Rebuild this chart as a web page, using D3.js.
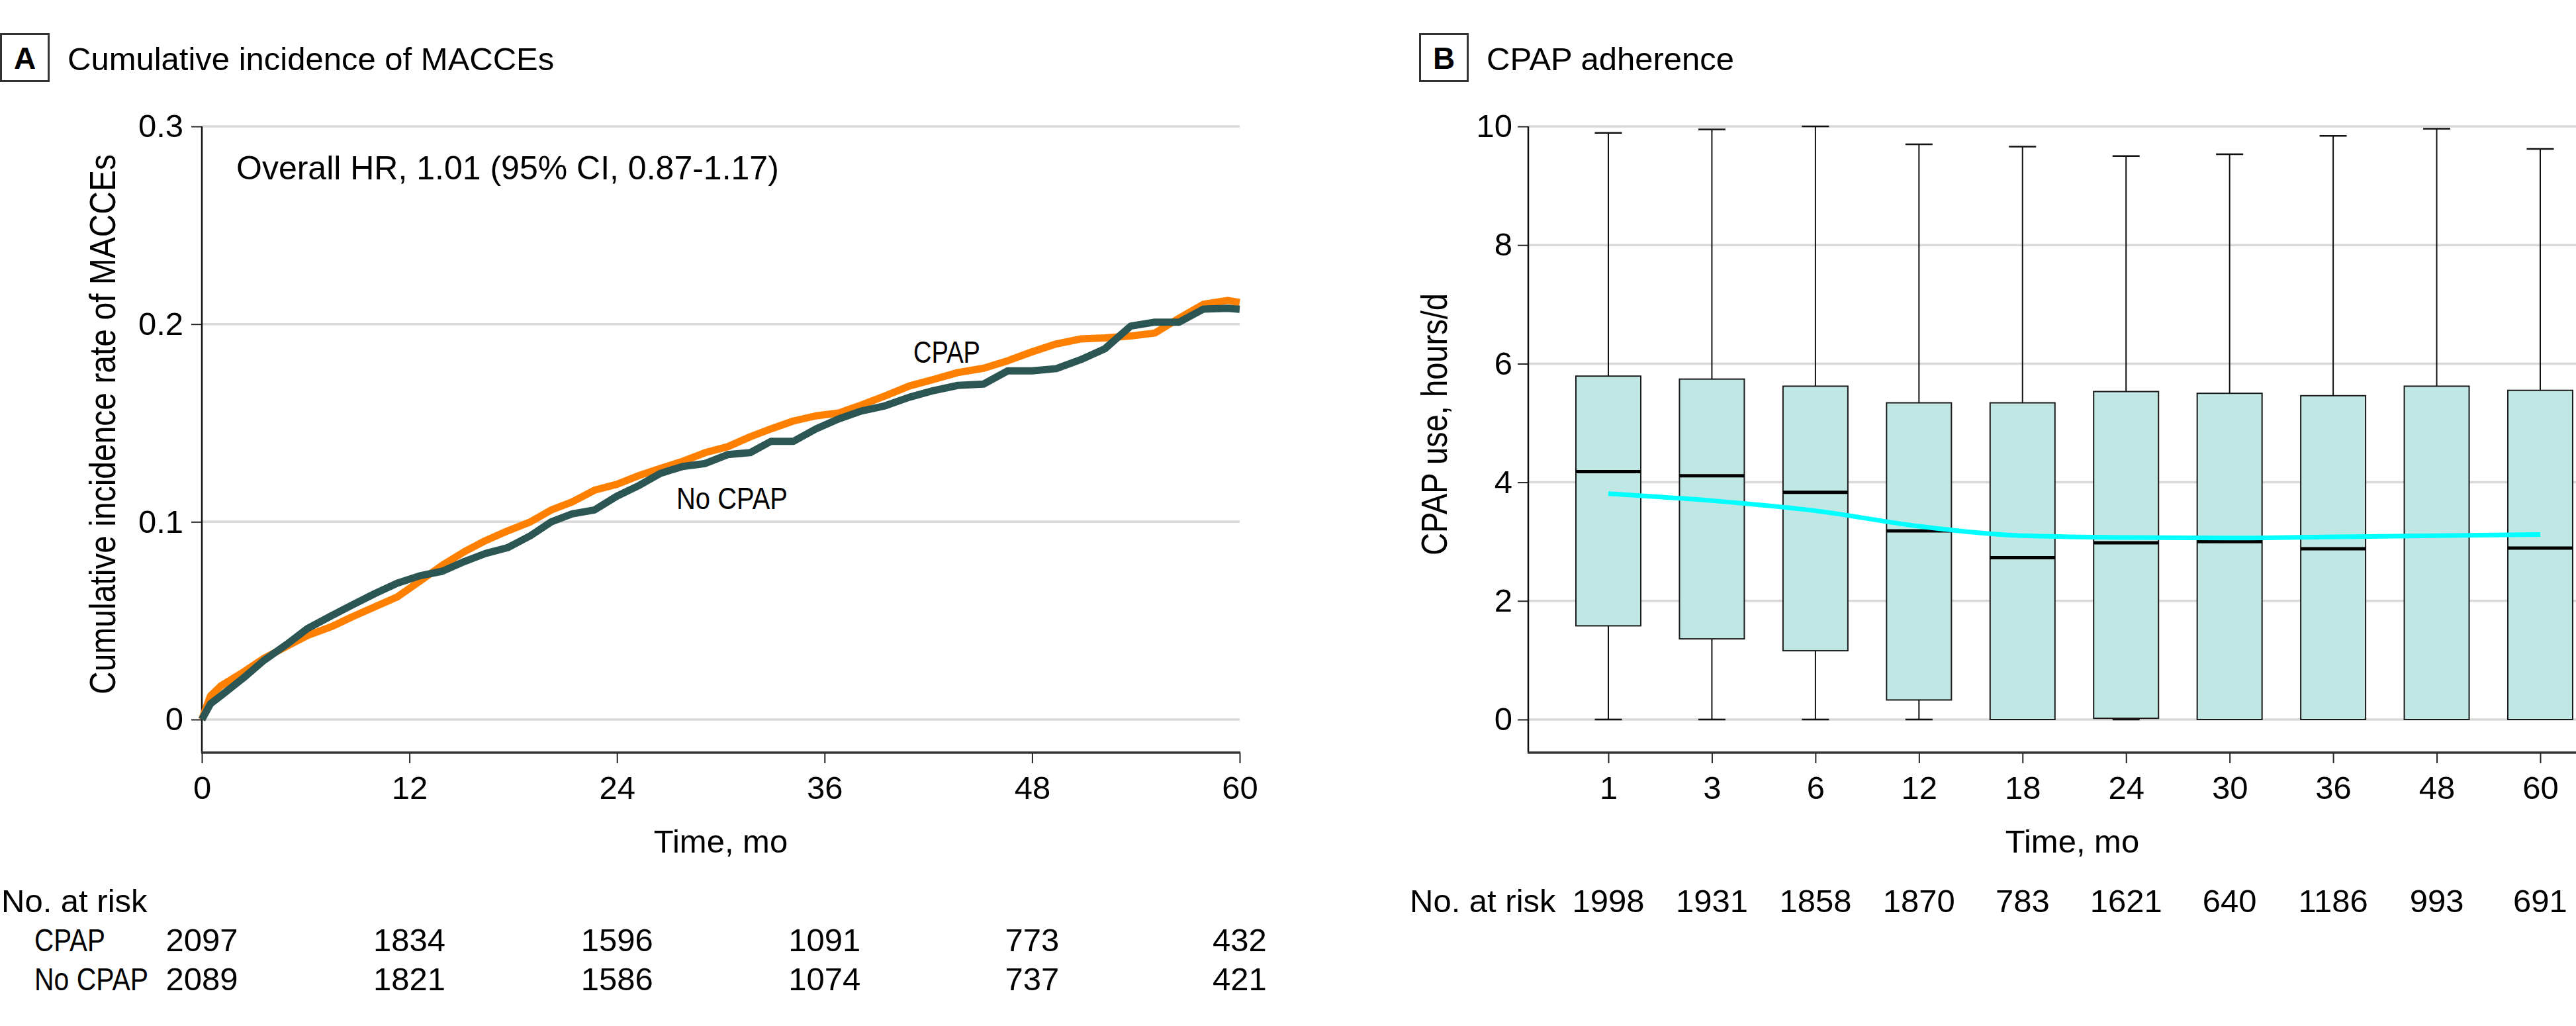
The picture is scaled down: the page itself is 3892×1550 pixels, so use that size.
<!DOCTYPE html>
<html lang="en">
<head>
    <meta charset="UTF-8">
    <title>MACCEs and CPAP adherence</title>
    <script src="https://d3js.org/d3.v7.min.js"></script>
    <style>
        html, body {
            margin: 0;
            background: #fff;
        }
        text {
            font-family: "Liberation Sans", Arial, sans-serif;
            fill: #000;
        }
    </style>
</head>
<body>
    <div id="vis"></div>

    <script>
        // ---- Panel A: cumulative incidence ----
        var kmMonths = [0, 0.5, 1.1, 2.4, 3.6, 4.9, 6.1, 7.5, 8.7, 10, 11.3, 12.6, 13.9, 15.2, 16.4, 17.7, 19, 20.2, 21.4, 22.7,
            24, 25.3, 26.5, 27.8, 29.1, 30.4, 31.7, 32.9, 34.2, 35.5, 36.8, 38.1, 39.5, 40.9, 42.3, 43.7, 45.2, 46.6, 48, 49.4,
            50.8, 52.2, 53.7, 55.1, 56.5, 57.9, 59.3, 60];
        var cpapIncidence = [0, 0.012, 0.017, 0.024, 0.031, 0.037, 0.0425, 0.047, 0.052, 0.057, 0.062, 0.070, 0.078, 0.085, 0.0905, 0.0955, 0.100, 0.106, 0.110, 0.116,
            0.119, 0.1235, 0.127, 0.1306, 0.135, 0.138, 0.143, 0.147, 0.151, 0.1536, 0.155, 0.159, 0.1637, 0.1687, 0.172, 0.1755, 0.1777, 0.1815, 0.186, 0.190,
            0.1925, 0.193, 0.194, 0.1955, 0.203, 0.210, 0.212, 0.211];
        var noCpapIncidence = [0, 0.008, 0.012, 0.021, 0.030, 0.038, 0.046, 0.0525, 0.058, 0.0637, 0.069, 0.0727, 0.075, 0.080, 0.084, 0.087, 0.093, 0.100, 0.104, 0.106,
            0.113, 0.1185, 0.1245, 0.128, 0.1295, 0.134, 0.135, 0.1407, 0.1407, 0.147, 0.152, 0.156, 0.1587, 0.163, 0.1664, 0.169, 0.1697, 0.1764, 0.1764, 0.1775,
            0.182, 0.1875, 0.199, 0.201, 0.201, 0.2076, 0.208, 0.2075];

        var kmTicks = [0, 12, 24, 36, 48, 60];
        var incidenceTicks = [0, 0.1, 0.2, 0.3];
        var riskCpap = [2097, 1834, 1596, 1091, 773, 432];
        var riskNoCpap = [2089, 1821, 1586, 1074, 737, 421];

        // ---- Panel B: CPAP use per visit ----
        var visitMonths = ["1", "3", "6", "12", "18", "24", "30", "36", "48", "60"];
        var useMin = [0, 0, 0, 0, 0, 0, 0, 0, 0, 0];
        var useQ1 = [1.58, 1.36, 1.16, 0.33, 0, 0.02, 0, 0, 0, 0];
        var useMedian = [4.18, 4.11, 3.83, 3.18, 2.73, 2.98, 3.00, 2.88, 3.10, 2.89];
        var useQ3 = [5.79, 5.74, 5.62, 5.34, 5.34, 5.53, 5.50, 5.46, 5.62, 5.55];
        var useMax = [9.89, 9.95, 10.0, 9.70, 9.66, 9.50, 9.53, 9.84, 9.96, 9.62];
        var useTrend = [3.81, 3.69, 3.52, 3.26, 3.10, 3.07, 3.06, 3.08, 3.10, 3.12];
        var visitAtRisk = [1998, 1931, 1858, 1870, 783, 1621, 640, 1186, 993, 691];
        var useTicks = [0, 2, 4, 6, 8, 10];

        var W = 3892, H = 1550;
        var fontSize = 49;
        var axisY = 1137;              // bottom axis line, both panels
        var riskRows = [1378, 1437, 1496];

        var svg = d3.select('#vis')
            .append('svg')
                .attr('width', W)
                .attr('height', H);

        // text squeezed to a measured width (the original face has narrow capitals)
        function narrowText(x, y, size, width, str) {
            return svg.append('text')
                .attr('x', x).attr('y', y)
                .attr('font-size', size)
                .attr('textLength', width)
                .attr('lengthAdjust', 'spacingAndGlyphs')
                .text(str);
        }

        function panelTag(x, letter, title) {
            svg.append('rect')
                .attr('x', x + 1.5).attr('y', 51.5)
                .attr('width', 72).attr('height', 71)
                .attr('fill', 'none')
                .attr('stroke', '#333')
                .attr('stroke-width', 3);
            svg.append('text')
                .attr('x', x + 37.5).attr('y', 104)
                .attr('text-anchor', 'middle')
                .attr('font-weight', 'bold')
                .attr('font-size', 46)
                .text(letter);
            svg.append('text')
                .attr('x', x + 102).attr('y', 106)
                .attr('font-size', 49)
                .text(title);
        }

        function yTitle(cx, cy, len, str) {
            svg.append('text')
                .attr('transform', 'translate(' + cx + ',' + cy + ') rotate(-90)')
                .attr('text-anchor', 'middle')
                .attr('font-size', 56)
                .attr('textLength', len)
                .attr('lengthAdjust', 'spacingAndGlyphs')
                .text(str);
        }

        function styleAxis(g) {
            g.select('.domain').remove();
            g.selectAll('.tick line').attr('stroke', '#222').attr('stroke-width', 2);
            g.selectAll('.tick text').attr('font-size', fontSize).attr('fill', '#000')
                .attr('font-family', '"Liberation Sans", Arial, sans-serif');
        }

        /*
         *  PANEL A
         */
        var xA = d3.scaleLinear().domain([0, 60]).range([305, 1873]);
        var yA = d3.scaleLinear().domain([0, 0.3]).range([1087, 191]);

        panelTag(0, 'A', 'Cumulative incidence of MACCEs');

        svg.append('g').selectAll('line')
            .data(incidenceTicks)
            .enter().append('line')
                .attr('x1', xA(0)).attr('x2', xA(60))
                .attr('y1', d => yA(d)).attr('y2', d => yA(d))
                .attr('stroke', '#d9d9d9')
                .attr('stroke-width', 3.5);

        svg.append('g')
            .attr('transform', 'translate(' + xA(0) + ',0)')
            .call(d3.axisLeft(yA).tickValues(incidenceTicks).tickSize(16).tickPadding(12)
                .tickFormat(d => d === 0 ? '0' : d3.format('.1f')(d)))
            .call(styleAxis);

        svg.append('g')
            .attr('transform', 'translate(0,' + axisY + ')')
            .call(d3.axisBottom(xA).tickValues(kmTicks).tickSize(16).tickPadding(19))
            .call(styleAxis);

        svg.append('line')
            .attr('x1', xA(0)).attr('x2', xA(0))
            .attr('y1', yA(0.3)).attr('y2', axisY)
            .attr('stroke', '#111').attr('stroke-width', 2.5);
        svg.append('line')
            .attr('x1', xA(0) - 1).attr('x2', xA(60) + 1)
            .attr('y1', axisY).attr('y2', axisY)
            .attr('stroke', '#333').attr('stroke-width', 3.5);

        var kmLine = d3.line()
            .x(function(d, i) { return xA(kmMonths[i]); })
            .y(function(d) { return yA(d); });

        var series = [
            {values: cpapIncidence, color: '#ff8000'},
            {values: noCpapIncidence, color: '#2b5653'}
        ];

        series.forEach(function(s) {
            svg.append('path')
                .attr('d', kmLine(s.values))
                .attr('fill', 'none')
                .attr('stroke', s.color)
                .attr('stroke-width', 11)
                .attr('stroke-linejoin', 'round');
        });

        svg.append('text')
            .attr('x', 357).attr('y', 271)
            .attr('font-size', 50)
            .text('Overall HR, 1.01 (95% CI, 0.87-1.17)');

        narrowText(1380, 548, 46, 101, 'CPAP');
        narrowText(1022, 769, 46, 168, 'No CPAP');

        yTitle(174, 641, 816, 'Cumulative incidence rate of MACCEs');

        svg.append('text')
            .attr('x', xA(30)).attr('y', 1288)
            .attr('text-anchor', 'middle')
            .attr('font-size', fontSize)
            .text('Time, mo');

        // number at risk table
        svg.append('text').attr('x', 2).attr('y', riskRows[0]).attr('font-size', fontSize).text('No. at risk');
        narrowText(52, riskRows[1], fontSize, 107, 'CPAP');
        narrowText(52, riskRows[2], fontSize, 172, 'No CPAP');

        [riskCpap, riskNoCpap].forEach(function(row, r) {
            svg.append('g').selectAll('text')
                .data(row)
                .enter().append('text')
                    .attr('x', function(d, i) { return xA(kmTicks[i]); })
                    .attr('y', riskRows[r + 1])
                    .attr('text-anchor', 'middle')
                    .attr('font-size', fontSize)
                    .text(function(d) { return d; });
        });

        /*
         *  PANEL B
         */
        var xB = d3.scalePoint().domain(visitMonths).range([2430, 3838]);
        var yB = d3.scaleLinear().domain([0, 10]).range([1087, 191]);
        var yAxisB = 2309;
        var boxW = 98, capW = 41;

        panelTag(2144, 'B', 'CPAP adherence');

        svg.append('g').selectAll('line')
            .data(useTicks)
            .enter().append('line')
                .attr('x1', yAxisB).attr('x2', W)
                .attr('y1', d => yB(d)).attr('y2', d => yB(d))
                .attr('stroke', '#d9d9d9')
                .attr('stroke-width', 3.5);

        svg.append('g')
            .attr('transform', 'translate(' + yAxisB + ',0)')
            .call(d3.axisLeft(yB).tickValues(useTicks).tickSize(16).tickPadding(8))
            .call(styleAxis);

        svg.append('g')
            .attr('transform', 'translate(0,' + axisY + ')')
            .call(d3.axisBottom(xB).tickSize(16).tickPadding(19))
            .call(styleAxis);

        svg.append('line')
            .attr('x1', yAxisB).attr('x2', yAxisB)
            .attr('y1', yB(10)).attr('y2', axisY)
            .attr('stroke', '#111').attr('stroke-width', 2.5);
        svg.append('line')
            .attr('x1', yAxisB - 1).attr('x2', W)
            .attr('y1', axisY).attr('y2', axisY)
            .attr('stroke', '#333').attr('stroke-width', 3.5);

        var boxes = svg.append('g').selectAll('g')
            .data(visitMonths)
            .enter().append('g')
                .attr('transform', d => 'translate(' + xB(d) + ',0)');

        // whiskers
        boxes.append('line')
            .attr('x1', 0).attr('x2', 0)
            .attr('y1', (d, i) => yB(useMax[i]))
            .attr('y2', (d, i) => yB(useMin[i]))
            .attr('stroke', '#111').attr('stroke-width', 2);
        boxes.append('line')
            .attr('x1', -capW / 2).attr('x2', capW / 2)
            .attr('y1', (d, i) => yB(useMax[i]))
            .attr('y2', (d, i) => yB(useMax[i]))
            .attr('stroke', '#111').attr('stroke-width', 2.5);
        boxes.filter((d, i) => useQ1[i] > useMin[i])
            .append('line')
            .attr('x1', -capW / 2).attr('x2', capW / 2)
            .attr('y1', function(d) { return yB(useMin[visitMonths.indexOf(d)]); })
            .attr('y2', function(d) { return yB(useMin[visitMonths.indexOf(d)]); })
            .attr('stroke', '#111').attr('stroke-width', 2.5);

        boxes.append('rect')
            .attr('x', -boxW / 2)
            .attr('width', boxW)
            .attr('y', (d, i) => yB(useQ3[i]))
            .attr('height', (d, i) => yB(useQ1[i]) - yB(useQ3[i]))
            .attr('fill', '#c1e7e5')
            .attr('stroke', '#1a1a1a')
            .attr('stroke-width', 2);

        boxes.append('line')
            .attr('x1', -boxW / 2).attr('x2', boxW / 2)
            .attr('y1', (d, i) => yB(useMedian[i]))
            .attr('y2', (d, i) => yB(useMedian[i]))
            .attr('stroke', '#000').attr('stroke-width', 5);

        svg.append('path')
            .attr('d', d3.line()
                .x(function(d, i) { return xB(visitMonths[i]); })
                .y(function(d) { return yB(d); })
                .curve(d3.curveMonotoneX)(useTrend))
            .attr('fill', 'none')
            .attr('stroke', '#00ffff')
            .attr('stroke-width', 7);

        yTitle(2186, 641, 396, 'CPAP use, hours/d');

        svg.append('text')
            .attr('x', 3131).attr('y', 1288)
            .attr('text-anchor', 'middle')
            .attr('font-size', fontSize)
            .text('Time, mo');

        svg.append('text').attr('x', 2130).attr('y', riskRows[0]).attr('font-size', fontSize).text('No. at risk');
        svg.append('g').selectAll('text')
            .data(visitAtRisk)
            .enter().append('text')
                .attr('x', (d, i) => xB(visitMonths[i]))
                .attr('y', riskRows[0])
                .attr('text-anchor', 'middle')
                .attr('font-size', fontSize)
                .text(d => d);
    </script>
</body>
</html>
